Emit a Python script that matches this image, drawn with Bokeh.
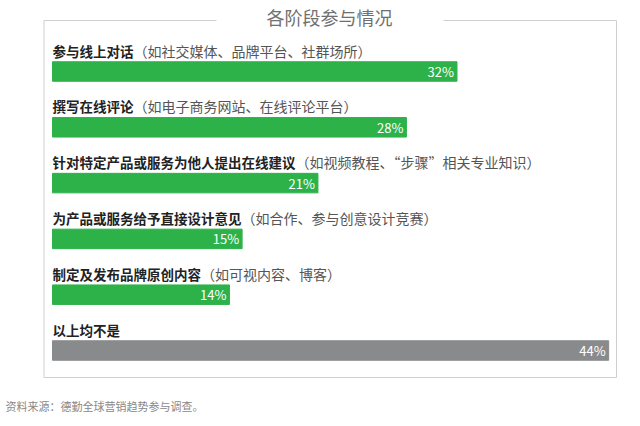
from bokeh.plotting import figure
from bokeh.models import Range1d, ColumnDataSource
from bokeh.core.properties import value
from bokeh.embed import file_html
from bokeh.resources import INLINE

# data
chart_title = "各阶段参与情况"
items = ["参与线上对话", "撰写在线评论", "针对特定产品或服务为他人提出在线建议",
         "为产品或服务给予直接设计意见", "制定及发布品牌原创内容", "以上均不是"]
notes = ["（如社交媒体、品牌平台、社群场所）", "（如电子商务网站、在线评论平台）",
         "（如视频教程、“步骤”相关专业知识）", "（如合作、参与创意设计竞赛）",
         "（如可视内容、博客）", ""]
pct = [32, 28, 21, 15, 14, 44]
source_note = "资料来源：德勤全球营销趋势参与调查。"

GREEN = "#2db24a"
GRAY = "#898a8c"
FONT = "Noto Sans CJK SC"
W, H = 640, 426
PX_PER_PCT = 12.64     # horizontal scale
PX_PER_ROW = 55.8      # row spacing
X0, Y0 = 52, 71        # pixel position of 0% / first row
FS = 13.5              # label font size

def dx(px):
    return (px - X0) / PX_PER_PCT

def dy(py):
    return (py - Y0) / PX_PER_ROW

p = figure(width=W, height=H, output_backend="svg", toolbar_location=None,
           x_range=Range1d(dx(0), dx(W)), y_range=Range1d(dy(H), dy(0)),
           min_border=0, outline_line_color=None)
p.axis.visible = False
p.grid.visible = False

idx = list(range(len(items)))
src = ColumnDataSource(dict(
    y=idx,
    ylab=[i - 21 / PX_PER_ROW for i in idx],
    pct=pct,
    item=items,
    note=notes,
    noff=[len(s) * FS for s in items],
    color=[GREEN] * 5 + [GRAY],
    plabel=[f"{v}%" for v in pct],
))

p.hbar(y="y", left=0, right="pct", height=19.5 / PX_PER_ROW, color="color", source=src)

p.text(x=0, y="ylab", text="item", source=src, text_font=value(FONT),
       text_font_size=f"{FS}px", text_font_style="bold", text_color="#222222",
       text_baseline="middle", text_align="left")
p.text(x=0, y="ylab", x_offset="noff", text="note", source=src, text_font=value(FONT),
       text_font_size="14px", text_color="#555555",
       text_baseline="middle", text_align="left")
p.text(x="pct", y="y", x_offset=-3, text="plabel", source=src, text_font=value(FONT),
       text_font_size="13px", text_color="white",
       text_baseline="middle", text_align="right")

# frame with gap for the title
fl, fr, ft, fb = 43.5, 616, 20, 377
p.multi_line(xs=[[dx(216), dx(fl), dx(fl), dx(fr), dx(fr), dx(443)]],
             ys=[[dy(ft), dy(ft), dy(fb), dy(fb), dy(ft), dy(ft)]],
             line_color="#cfcfcf", line_width=1)

p.text(x=[dx(329)], y=[dy(16)], text=[chart_title], text_font=value(FONT),
       text_font_size="18px", text_color="#707070",
       text_baseline="middle", text_align="center")
p.text(x=[dx(5)], y=[dy(405)], text=[source_note], text_font=value(FONT),
       text_font_size="11px", text_color="#888888",
       text_baseline="middle", text_align="left")

open("out.html", "w").write(file_html(p, INLINE))
